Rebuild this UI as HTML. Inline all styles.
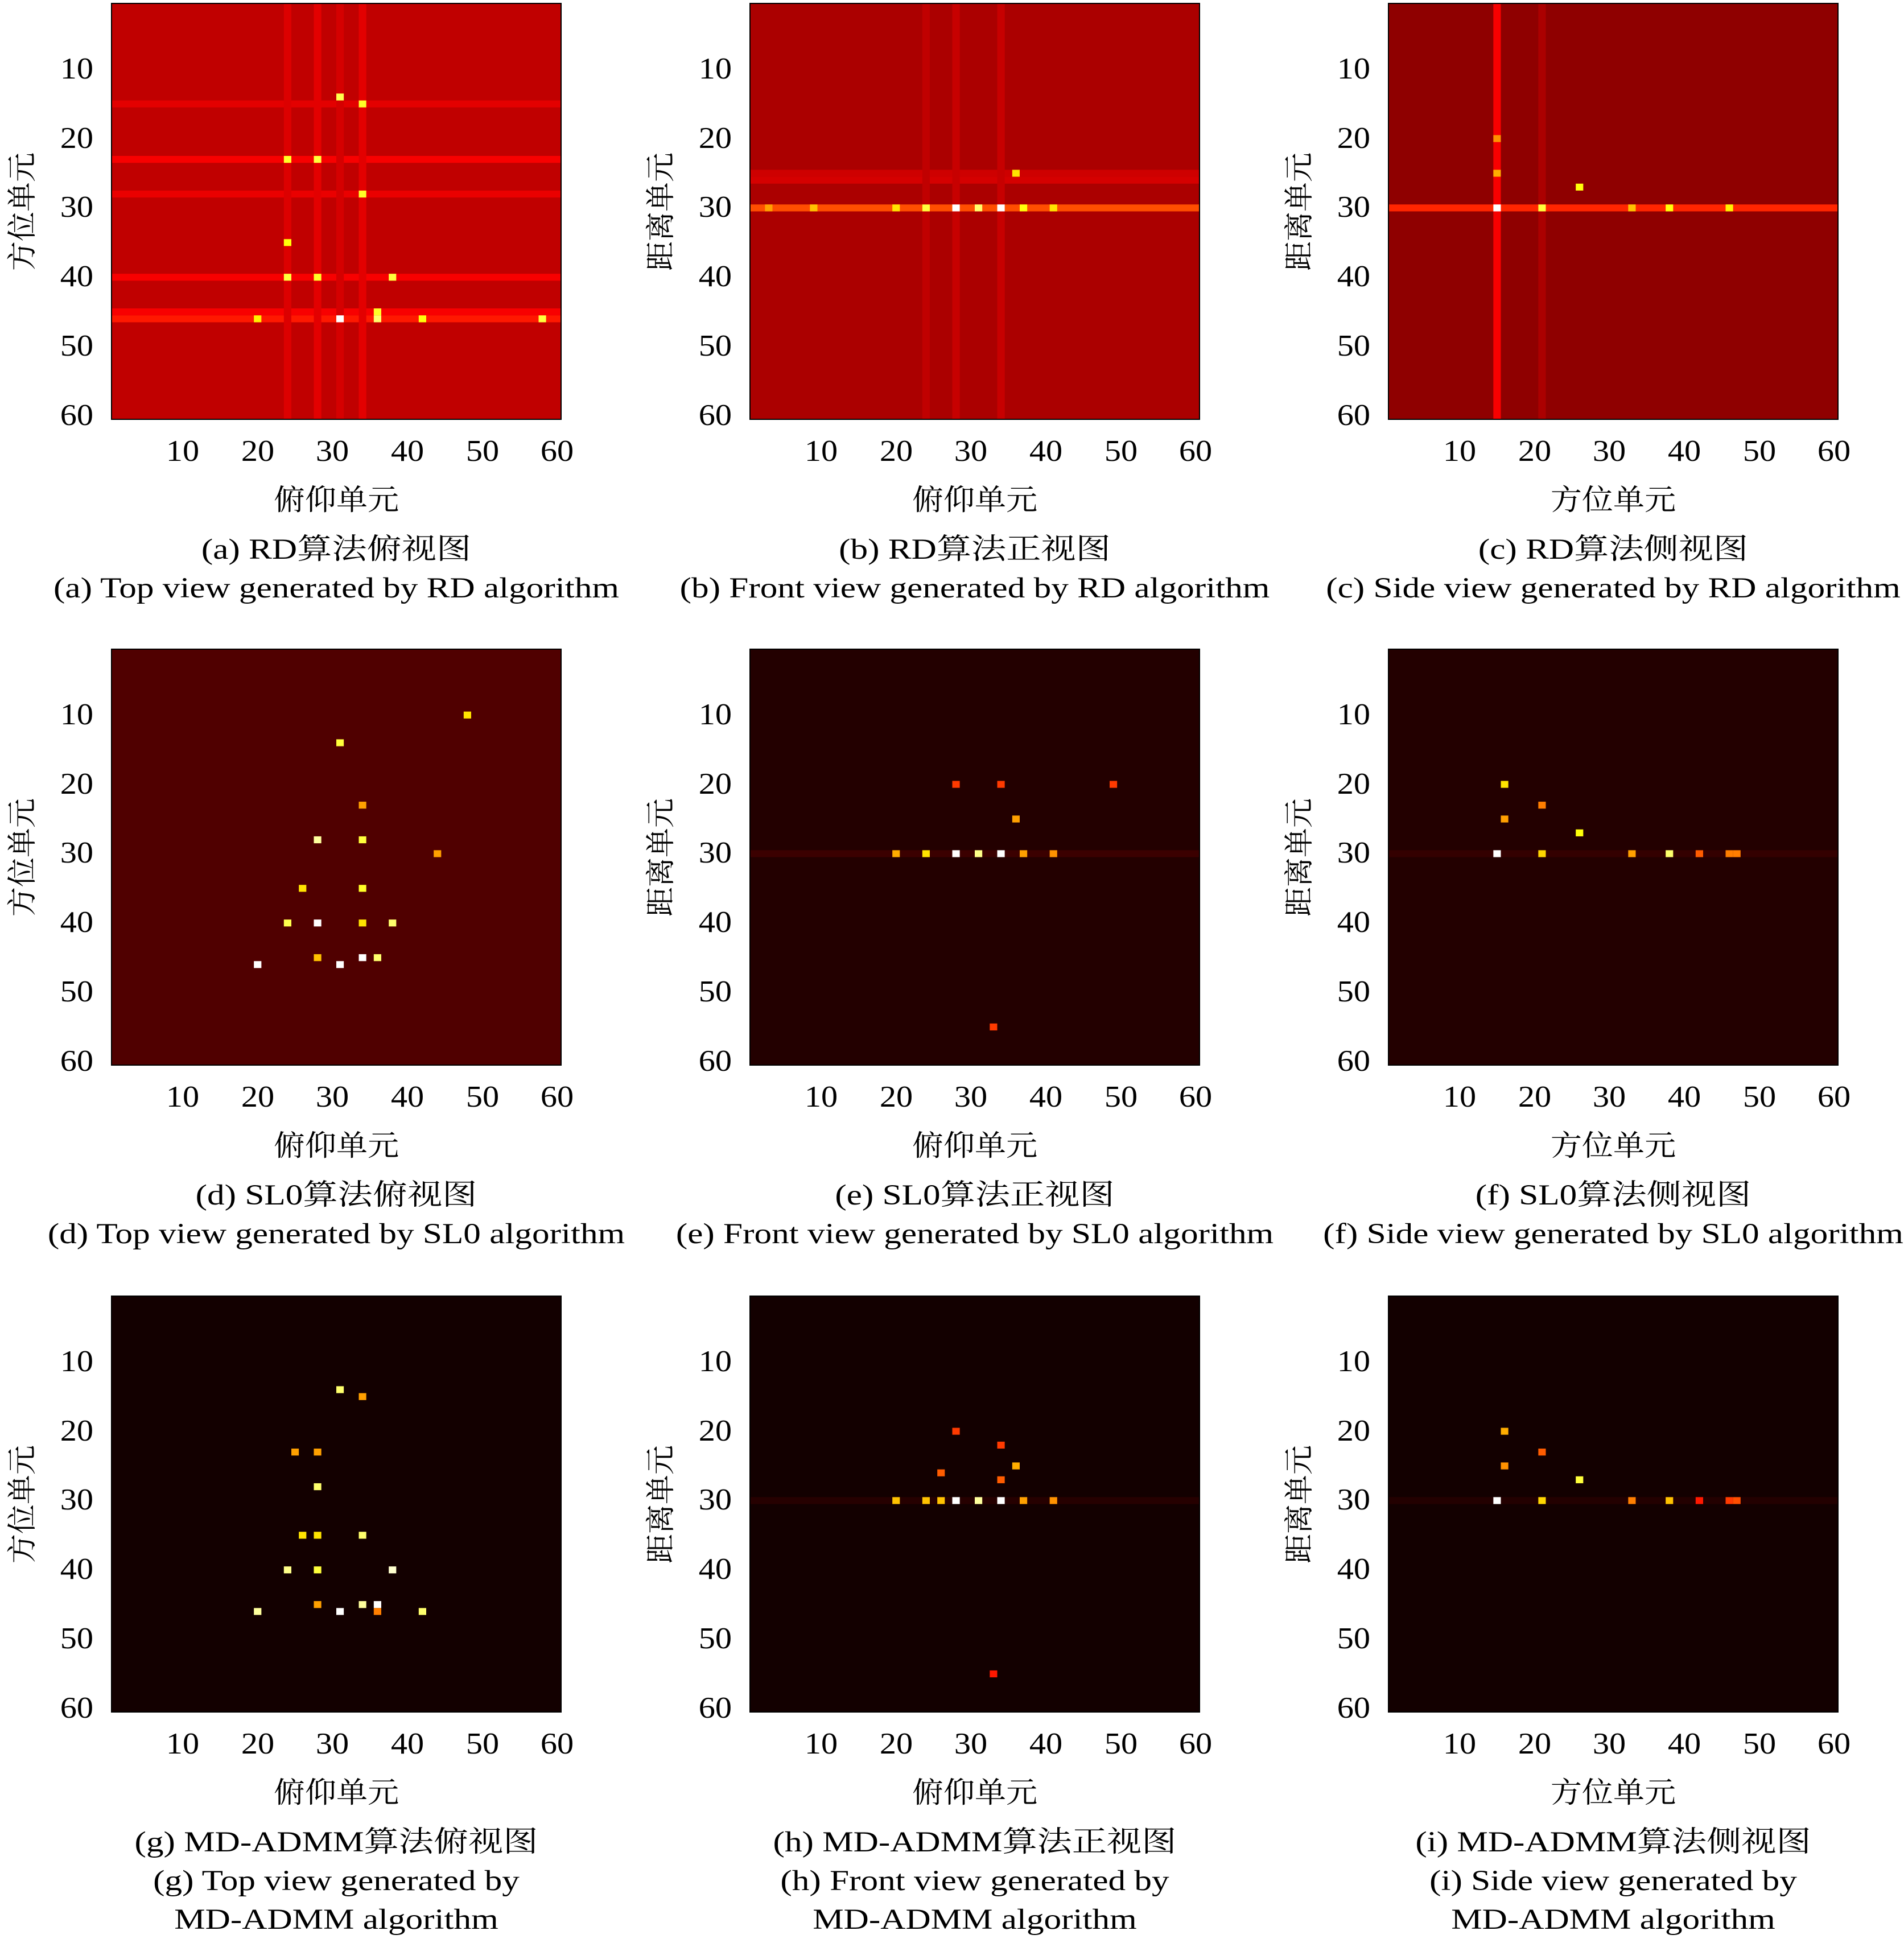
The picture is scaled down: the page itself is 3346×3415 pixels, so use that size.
<!DOCTYPE html>
<html><head><meta charset="utf-8">
<style>
body{margin:0;width:3346px;height:3415px;background:#fff;position:relative;overflow:hidden;font-family:"Liberation Serif","Noto Serif CJK SC",serif;color:#000}
.t{position:absolute;white-space:nowrap;font-size:53px;line-height:1}
.cap{position:absolute;white-space:nowrap;font-size:51px;line-height:1;transform:translateX(-50%) scaleX(1.2)}
.ttl{position:absolute;white-space:nowrap;font-size:51px;line-height:1;transform:translateX(-50%) scaleX(1.08)}
.yl{position:absolute;white-space:nowrap;font-size:52px;line-height:1;transform:translate(-50%,-50%) rotate(-90deg)}
svg{position:absolute;left:0;top:0}
</style></head>
<body>
<svg id="chart" width="3346" height="3415"></svg>
<div id="labels"></div>
<script>
const panelIds = ["a","b","c","d","e","f","g","h","i"];
const panelBase = [0.26,0.23,0.19,0.10,0.035,0.035,0.012,0.012,0.012];
const rowBands = [
 [[23,0.34],[28,0.32],[40,0.34],[46,0.40],[45,0.34],[15,0.31]],
 [[30,0.48],[26,0.29],[25,0.28]],
 [[30,0.42]],
 [],[[30,0.07]],[[30,0.06]],
 [],[[30,0.04]],[[30,0.035]]
];
const colBands = [
 [[24,0.30],[28,0.31],[34,0.31],[31,0.29]],
 [[28,0.27],[34,0.27],[24,0.26]],
 [[15,0.34],[21,0.23]],
 [],[],[],[],[],[]
];
const peaks = [
 [[46,31,1.0],[14,31,0.82],[46,36,0.85],[45,36,0.78],[40,24,0.8],[40,28,0.78],[40,38,0.8],[23,24,0.78],[23,28,0.8],[28,34,0.78],[46,20,0.72],[46,42,0.75],[46,58,0.8],[15,34,0.78],[35,24,0.75]],
 [[30,28,1.0],[30,34,1.0],[30,31,0.85],[30,24,0.8],[30,20,0.7],[30,37,0.75],[30,41,0.7],[30,9,0.65],[25,36,0.7],[30,3,0.6]],
 [[30,15,1.0],[30,21,0.8],[27,26,0.75],[30,38,0.75],[30,46,0.72],[30,33,0.65],[25,15,0.62],[20,15,0.58]],
 [[46,20,1.0],[40,28,1.0],[46,31,1.0],[45,34,1.0],[28,28,0.9],[28,34,0.8],[40,24,0.82],[40,38,0.85],[14,31,0.8],[45,28,0.65],[45,36,0.85],[35,34,0.78],[35,26,0.7],[23,34,0.6],[40,34,0.7],[10,48,0.7],[30,44,0.6]],
 [[30,28,1.0],[30,34,1.0],[30,31,0.88],[30,24,0.7],[30,20,0.62],[30,37,0.6],[30,41,0.58],[25,36,0.6],[20,28,0.45],[20,34,0.45],[20,49,0.45],[55,33,0.45]],
 [[30,15,1.0],[20,16,0.7],[25,16,0.6],[23,21,0.55],[30,21,0.68],[27,26,0.75],[30,33,0.6],[30,38,0.85],[30,42,0.5],[30,46,0.55],[30,47,0.55]],
 [[46,31,1.0],[14,31,0.85],[40,24,0.88],[40,28,0.8],[40,38,0.95],[45,34,0.9],[45,36,1.0],[46,20,0.9],[46,42,0.85],[28,28,0.85],[35,34,0.85],[35,26,0.7],[35,28,0.7],[23,28,0.6],[23,25,0.6],[15,34,0.6],[46,36,0.55],[45,28,0.6]],
 [[30,28,1.0],[30,34,1.0],[30,31,0.9],[30,24,0.65],[30,20,0.65],[30,26,0.65],[30,37,0.6],[30,41,0.58],[25,36,0.62],[27,34,0.5],[26,26,0.5],[20,28,0.45],[22,34,0.45],[55,33,0.4]],
 [[30,15,1.0],[20,16,0.62],[25,16,0.58],[23,21,0.5],[30,21,0.68],[27,26,0.8],[30,33,0.55],[30,38,0.65],[30,42,0.4],[30,46,0.45],[30,47,0.48]]
];
const tickValues = [10,20,30,40,50,60];
const xTitles = ["俯仰单元","俯仰单元","方位单元","俯仰单元","俯仰单元","方位单元","俯仰单元","俯仰单元","方位单元"];
const yTitles = ["方位单元","距离单元","距离单元","方位单元","距离单元","距离单元","方位单元","距离单元","距离单元"];
const captions = [
 ["(a) RD算法俯视图","(a) Top view generated by RD algorithm"],
 ["(b) RD算法正视图","(b) Front view generated by RD algorithm"],
 ["(c) RD算法侧视图","(c) Side view generated by RD algorithm"],
 ["(d) SL0算法俯视图","(d) Top view generated by SL0 algorithm"],
 ["(e) SL0算法正视图","(e) Front view generated by SL0 algorithm"],
 ["(f) SL0算法侧视图","(f) Side view generated by SL0 algorithm"],
 ["(g) MD-ADMM算法俯视图","(g) Top view generated by","MD-ADMM algorithm"],
 ["(h) MD-ADMM算法正视图","(h) Front view generated by","MD-ADMM algorithm"],
 ["(i) MD-ADMM算法侧视图","(i) Side view generated by","MD-ADMM algorithm"]
];
const colX=[196,1318,2440], rowY=[6,1141,2278], PW=790, PH=731, N=60;
function hot(v){v=Math.max(0,Math.min(1,v));
 const r=Math.min(1,0.04+v/0.365),g=Math.max(0,Math.min(1,(v-0.365)/0.375)),b=Math.max(0,Math.min(1,(v-0.74)/0.26));
 return `rgb(${Math.round(r*255)},${Math.round(g*255)},${Math.round(b*255)})`;}
const svg=document.getElementById('chart'), NS="http://www.w3.org/2000/svg", L=document.getElementById('labels');
function rect(x,y,w,h,fill,name){const r=document.createElementNS(NS,'rect');
 r.setAttribute('x',x);r.setAttribute('y',y);r.setAttribute('width',w);r.setAttribute('height',h);r.setAttribute('fill',fill);
 
 
 svg.appendChild(r);return r;}
function div(cls,txt,x,y,name){const d=document.createElement('div');d.className=cls;d.textContent=txt;d.style.left=x+'px';d.style.top=y+'px';
 
 
 L.appendChild(d);return d;}
panelIds.forEach((id,p)=>{
 const x0=colX[p%3], y0=rowY[Math.floor(p/3)], cw=PW/N, ch=PH/N;
 const xs=c=>x0+(c-1)*cw, ys=r=>y0+(r-1)*ch;
 rect(x0,y0,PW,PH,hot(panelBase[p]),'heatmap-'+id+'-background');
 rowBands[p].forEach(([r,v])=>rect(x0,ys(r),PW,ch,hot(v),'row-band-'+id));
 colBands[p].forEach(([c,v])=>rect(xs(c),y0,cw,PH,hot(v),'col-band-'+id));
 peaks[p].forEach(([r,c,v])=>rect(xs(c),ys(r),cw,ch,hot(v),'peak-cell-'+id));
 const fr=rect(x0,y0,PW,PH,'none','heatmap-'+id+'-frame');fr.setAttribute('stroke','#000');fr.setAttribute('stroke-width','2');
 tickValues.forEach(t=>{
  const tx=x0+(t-0.5)/N*PW, ty=y0+(t-0.5)/N*PH;
  const a=div('t',String(t),tx,y0+PH+30,'x-tick-label');a.style.transform='translateX(-50%) scaleX(1.1)';
  const b=div('t',String(t),x0-32,ty-27,'y-tick-label');b.style.transform='translateX(-100%) scaleX(1.1)';b.style.transformOrigin='100% 50%';
 });
 div('ttl',xTitles[p],x0+PW/2,y0+PH+118,'x-axis-title');
 div('yl',yTitles[p],x0-155,y0+PH/2,'y-axis-title');
 captions[p].forEach((c,i)=>div('cap',c,x0+PW/2,y0+PH+204+i*68,'caption-line'));
});
</script>
</body></html>
